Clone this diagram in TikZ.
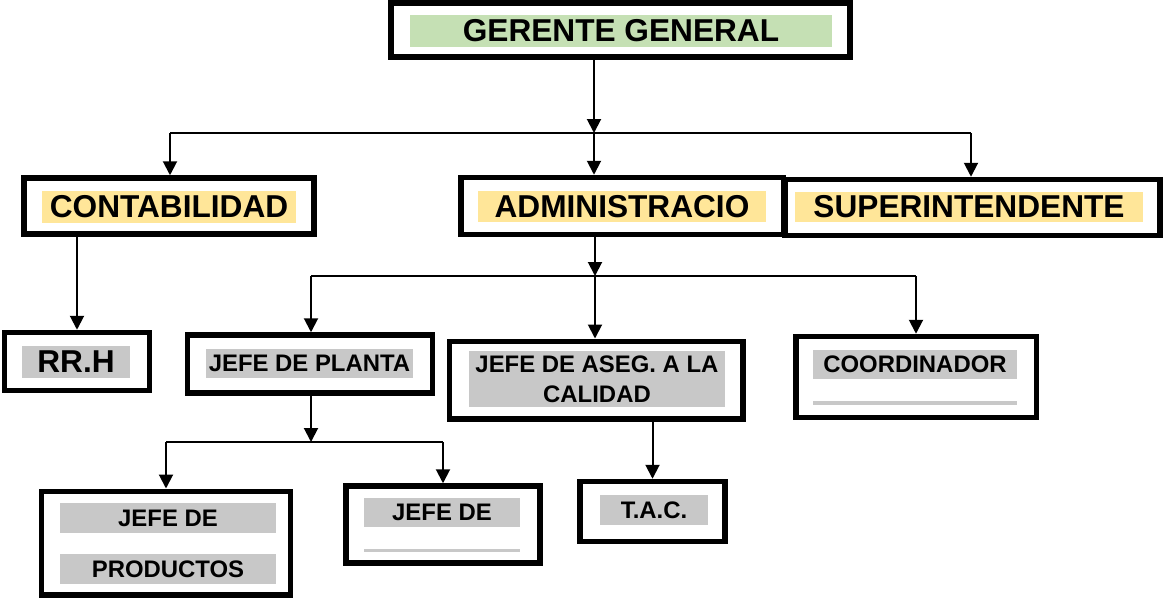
\documentclass[tikz,border=0pt]{standalone}
\usepackage{fontspec}
\setmainfont{Liberation Sans}
\usetikzlibrary{arrows.meta}
\definecolor{verdegg}{RGB}{197,224,180}
\definecolor{amarillo}{RGB}{255,230,153}
\definecolor{grisbar}{RGB}{200,200,200}

\begin{document}
\begin{tikzpicture}[x=0.2mm,y=-0.2mm,>={Triangle[length=2.8mm,width=2.8mm]},
  caja/.style={draw,line width=1.1mm,inner sep=0},
  barra/.style={fill=#1,inner sep=0,font=\fontsize{13.6pt}{17pt}\selectfont\bfseries},
  barragrande/.style={fill=#1,inner sep=0,font=\fontsize{18pt}{20pt}\selectfont\bfseries},
  linea/.style={line width=0.4mm}]

\useasboundingbox (0,0) rectangle (1163,598);

\node[caja,minimum width=91.8mm,minimum height=10.8mm] (gg) at (620.5,30) {};
\node[barragrande=verdegg,minimum width=84.4mm,minimum height=6.4mm] (ggt) at (621,31) {GERENTE GENERAL};

\node[caja,minimum width=58mm,minimum height=11.2mm] (cont) at (169,206) {};
\node[barragrande=amarillo,minimum width=50.8mm,minimum height=6.4mm] (contt) at (169,207) {CONTABILIDAD};

\node[caja,minimum width=64.5mm,minimum height=11.4mm] (adm) at (622,206) {};
\node[barragrande=amarillo,minimum width=57.6mm,minimum height=6.2mm] (admt) at (622,206.5) {ADMINISTRACIO};

\node[caja,minimum width=75mm,minimum height=11.2mm] (sup) at (972.5,207.5) {};
\node[barragrande=amarillo,minimum width=69.6mm,minimum height=6mm] (supt) at (969,207) {SUPERINTENDENTE};

\node[caja,minimum width=29mm,minimum height=11.6mm] (rrh) at (77,361.5) {};
\node[barragrande=grisbar,minimum width=21.6mm,minimum height=6.4mm] (rrht) at (76,362) {RR.H};

\node[caja,minimum width=49mm,minimum height=11.6mm] (planta) at (310,364) {};
\node[barra=grisbar,minimum width=41.4mm,minimum height=5.8mm] (plantat) at (309.5,363.5) {JEFE DE PLANTA};

\node[caja,minimum width=58.7mm,minimum height=15.5mm] (aseg) at (596,380) {};
\node[barra=grisbar,minimum width=51.2mm,minimum height=11.2mm,align=center] (asegt) at (597,379) {JEFE DE ASEG. A LA\\CALIDAD};

\node[caja,minimum width=48.1mm,minimum height=16.2mm] (coord) at (916,377) {};
\node[barra=grisbar,minimum width=40.8mm,minimum height=5.8mm] (coordt) at (915,364.5) {COORDINADOR};
\node[barra=grisbar,minimum width=40.8mm,minimum height=0.8mm] (coordl) at (915,403) {};

\node[caja,minimum width=49.7mm,minimum height=20.7mm] (prod) at (166,543) {};
\node[barra=grisbar,minimum width=43.2mm,minimum height=6mm] (prodt) at (168,518) {JEFE DE};
\node[barra=grisbar,minimum width=43.2mm,minimum height=6mm] (prodt2) at (168,569) {PRODUCTOS};

\node[caja,minimum width=38.8mm,minimum height=15.4mm] (jefe) at (443,524.5) {};
\node[barra=grisbar,minimum width=31.2mm,minimum height=5.8mm] (jefet) at (442,512.5) {JEFE DE};
\node[barra=grisbar,minimum width=31.2mm,minimum height=0.6mm] (jefel) at (442,550.5) {};

\node[caja,minimum width=29mm,minimum height=12mm] (tac) at (652.5,511.5) {};
\node[barra=grisbar,minimum width=21.6mm,minimum height=6mm] (tact) at (654,510) {T.A.C.};

\coordinate (r1) at (594,133);
\coordinate (r1i) at (170,133);
\coordinate (r1d) at (971,133);
\draw[linea,->] (gg.south -| r1) -- (r1);
\draw[linea] (r1i) -- (r1d);
\draw[linea,->] (r1i) -- (cont.north -| r1i);
\draw[linea,->] (r1) -- (adm.north -| r1);
\draw[linea,->] (r1d) -- (sup.north -| r1d);

\draw[linea,->] (cont.south -| rrh) -- (rrh.north);

\coordinate (r2) at (595,276);
\coordinate (r2i) at (311,276);
\coordinate (r2d) at (916,276);
\draw[linea,->] (adm.south -| r2) -- (r2);
\draw[linea] (r2i) -- (r2d);
\draw[linea,->] (r2i) -- (planta.north -| r2i);
\draw[linea,->] (r2) -- (aseg.north -| r2);
\draw[linea,->] (r2d) -- (coord.north -| r2d);

\coordinate (r3) at (311,442);
\coordinate (r3i) at (166,442);
\coordinate (r3d) at (443,442);
\draw[linea,->] (planta.south -| r3) -- (r3);
\draw[linea] (r3i) -- (r3d);
\draw[linea,->] (r3i) -- (prod.north -| r3i);
\draw[linea,->] (r3d) -- (jefe.north -| r3d);

\draw[linea,->] (aseg.south -| tac) -- (tac.north);

\end{tikzpicture}
\end{document}
